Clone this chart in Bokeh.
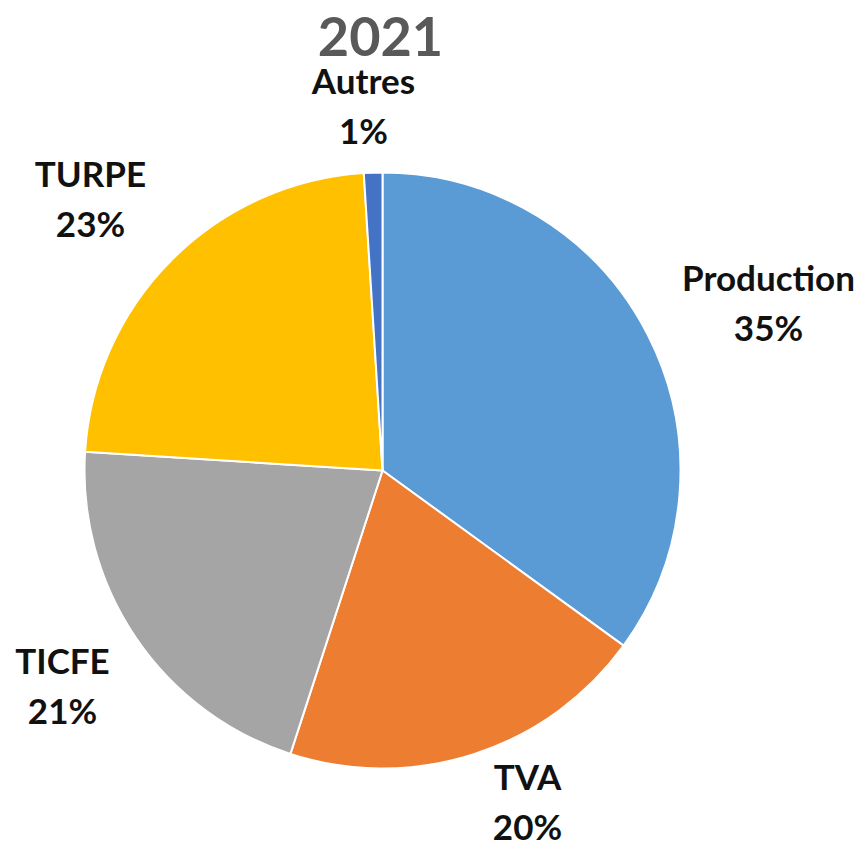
from bokeh.plotting import figure
from bokeh.models import ColumnDataSource, Range1d
from bokeh.core.properties import value
from bokeh.embed import file_html
from bokeh.resources import INLINE
import math

# Data
categories = ["Production", "TVA", "TICFE", "TURPE", "Autres"]
shares = [35, 20, 21, 23, 1]
colors = ["#5B9BD5", "#ED7D31", "#A5A5A5", "#FFC000", "#4472C4"]
title_text = "2021"

# Layout (screen pixels, y measured from top)
W, H = 867, 847
cx, cy, r = 382, 470, 298
label_pos = {
    "Production": (768, 276),
    "TVA": (527, 775),
    "TICFE": (62, 659),
    "TURPE": (90, 172),
    "Autres": (363, 79),
}
line_gap = 50
font = "Lato"

total = float(sum(shares))
starts, ends = [], []
a = math.pi / 2
for s in shares:
    starts.append(a)
    a = a - 2 * math.pi * s / total
    ends.append(a)

src = ColumnDataSource(dict(start=starts, end=ends, color=colors, cat=categories))

p = figure(width=W, height=H, output_backend="svg", toolbar_location=None,
           x_range=Range1d(0, W), y_range=Range1d(0, H), min_border=0)
p.axis.visible = False
p.grid.visible = False
p.outline_line_color = None
p.background_fill_color = "white"

p.wedge(x=cx, y=H - cy, radius=r, start_angle="start", end_angle="end",
        direction="clock", fill_color="color", line_color="white", line_width=2,
        source=src)

# labels
lx, ly, lt = [], [], []
for c, s in zip(categories, shares):
    x, y = label_pos[c]
    lx += [x, x]
    ly += [H - y, H - y - line_gap]
    lt += [c, f"{s}%"]
p.text(x=lx, y=ly, text=lt, text_font=value(font), text_font_style="bold",
       text_font_size="35px", text_color="#111111", text_align="center",
       text_baseline="middle")

p.text(x=[380], y=[H - 36], text=[title_text], text_font=value(font),
       text_font_style="bold", text_font_size="54px", text_color="#595959",
       text_align="center", text_baseline="middle")

open("out.html", "w").write(file_html(p, INLINE))
